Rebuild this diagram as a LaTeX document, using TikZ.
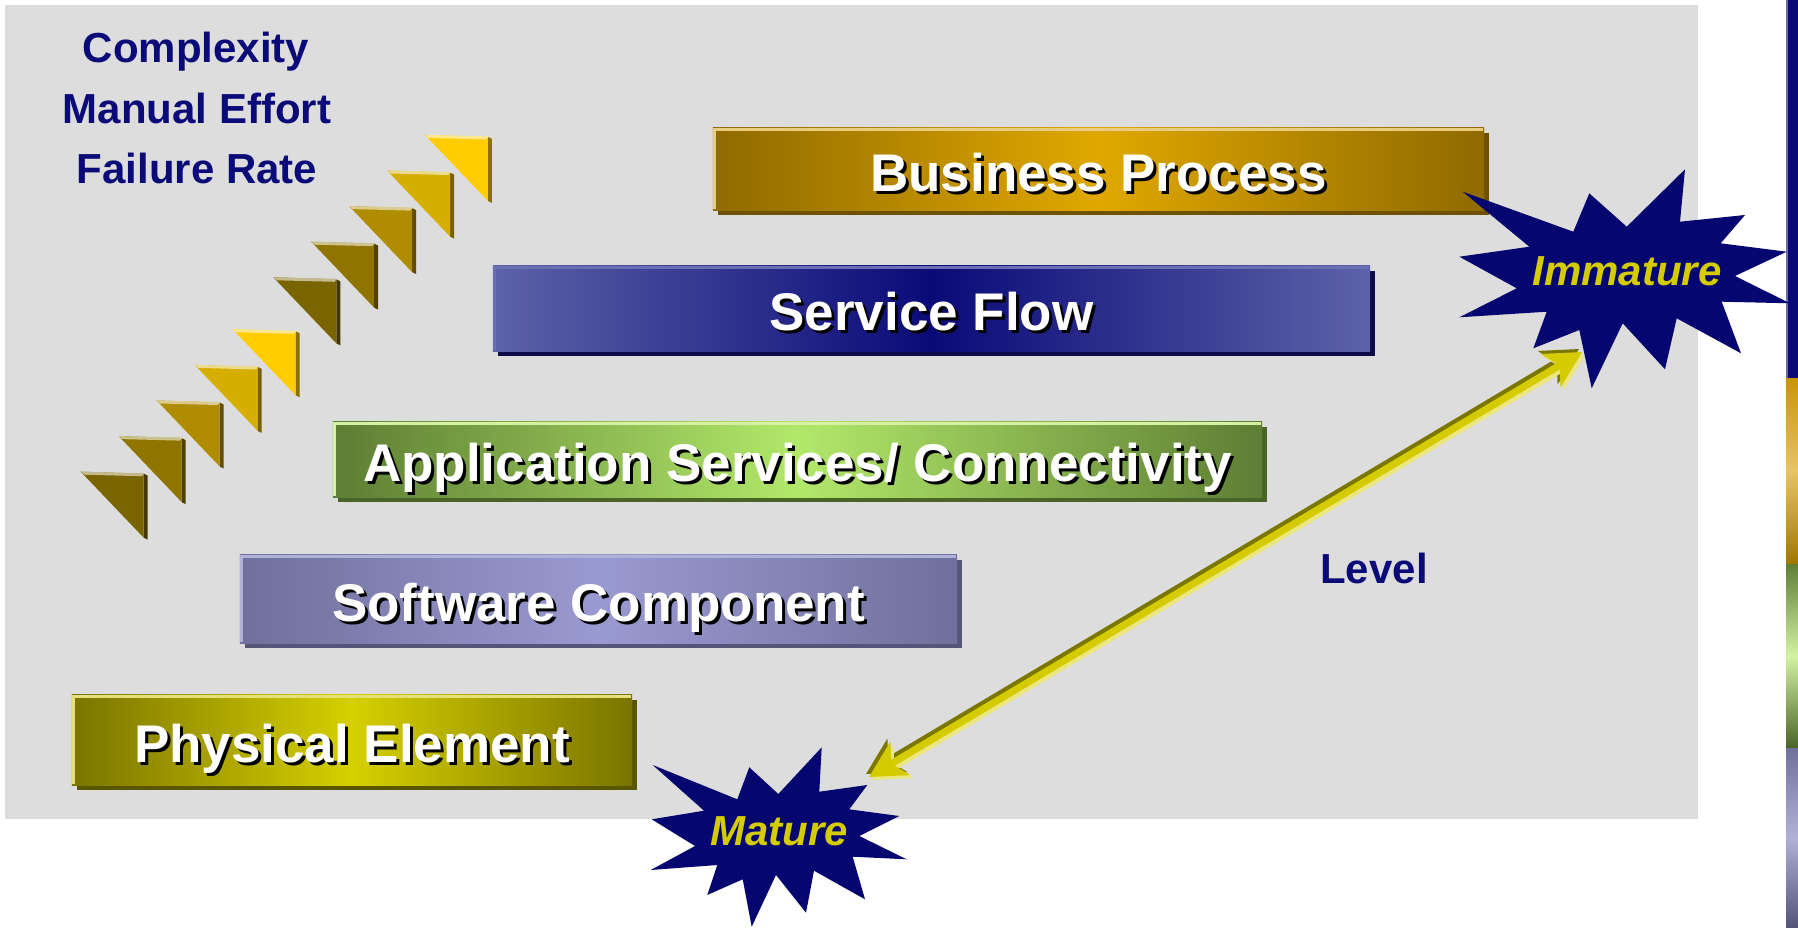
\documentclass[tikz,border=0pt]{standalone}
\usepackage{fontspec}
\setmainfont{Liberation Sans}
\usetikzlibrary{arrows.meta}

% palette
\definecolor{panel}{HTML}{DDDDDD}
\definecolor{inknavy}{HTML}{0A0A78}
\definecolor{burst}{HTML}{060670}
\definecolor{burstText}{HTML}{D4CC00}
\definecolor{lvlMain}{HTML}{D4CC00}
\definecolor{lvlDark}{HTML}{7A7600}
\definecolor{lvlLight}{HTML}{ECE680}
% layer bars: edge / middle / highlight / shadow
\definecolor{bpEdge}{HTML}{8F6A00}\definecolor{bpMid}{HTML}{E0A800}
\definecolor{bpHi}{HTML}{E8CC80}\definecolor{bpLo}{HTML}{6E5200}
\definecolor{sfEdge}{HTML}{5E62A8}\definecolor{sfMid}{HTML}{0A0A78}
\definecolor{sfHi}{HTML}{6A6EB2}\definecolor{sfLo}{HTML}{0C0C48}
\definecolor{asEdge}{HTML}{5E7E34}\definecolor{asMid}{HTML}{B2E86A}
\definecolor{asHi}{HTML}{D4F2A2}\definecolor{asLo}{HTML}{4A6428}
\definecolor{scEdge}{HTML}{70709C}\definecolor{scMid}{HTML}{9A9AD2}
\definecolor{scHi}{HTML}{B0B0D8}\definecolor{scLo}{HTML}{55557A}
\definecolor{peEdge}{HTML}{7A7400}\definecolor{peMid}{HTML}{D6D000}
\definecolor{peHi}{HTML}{E6E07A}\definecolor{peLo}{HTML}{5A5600}
% stair steps
\definecolor{stA}{HTML}{7A6400}
\definecolor{stB}{HTML}{8F7400}
\definecolor{stC}{HTML}{B08C00}
\definecolor{stD}{HTML}{D6AE00}
\definecolor{stE}{HTML}{FFCC00}
% edge strip
\definecolor{gsTop}{HTML}{C89408}\definecolor{gsMid}{HTML}{E8C462}\definecolor{gsBot}{HTML}{A07800}

% one layer bar: name, centre x, centre y, width, height, colour prefix, label
\newcommand\layerbox[7]{%
  \node[inner sep=0, minimum width=#4, minimum height=#5] (#1) at (#2,#3) {};
  \fill[#6Lo] ([shift={(5,5)}]#1.north west) rectangle ([shift={(5,5)}]#1.south east);
  \shade[left color=#6Edge, right color=#6Edge, middle color=#6Mid]
    (#1.north west) rectangle (#1.south east);
  \draw[#6Hi, line width=3pt] ([shift={(1.5,-1.5)}]#1.south west)
    -- ([shift={(1.5,1.5)}]#1.north west) -- ([shift={(-1.5,1.5)}]#1.north east);
  \node[bartext, text=black] at ([shift={(3,6)}]#1.center) {#7};
  \node[bartext] at ([shift={(0,3)}]#1.center) {#7};
}

% one bevelled stair triangle: top-left x, y, colour
\newcommand\stairtri[3]{%
  \fill[#3!55!black] (#1+63,#2+2) -- (#1+67,#2+4) -- (#1+67,#2+68) -- (#1+63,#2+66) -- cycle;
  \fill[#3] (#1,#2) -- (#1+63,#2+2) -- (#1+63,#2+66) -- cycle;
  \fill[#3!45!white] (#1,#2) -- (#1+64,#2+1.5) -- (#1+61,#2+4.5) -- (#1+3.5,#2+3) -- cycle;
}

\begin{document}
\begin{tikzpicture}[x=1pt, y=-1pt,
  bartext/.style={font=\fontsize{53}{60}\selectfont\bfseries, text=white,
    inner sep=0, text height=38pt, text depth=0pt},
  sidetext/.style={font=\fontsize{42}{50}\selectfont\bfseries, text=inknavy,
    inner sep=0, text height=30pt, text depth=0pt},
  bursttext/.style={font=\fontsize{42}{50}\selectfont\bfseries\itshape, text=burstText,
    inner sep=0, text height=30pt, text depth=0pt},
  lvlarrow/.style={line width=7pt,
    {Stealth[length=36pt,width=38pt,inset=10pt]}-{Stealth[length=36pt,width=38pt,inset=10pt]}}]

\useasboundingbox (0,0) rectangle (1798,927);
\fill[white] (0,0) rectangle (1798,927);

% grey panel
\fill[panel] (5,5) rectangle (1698,819);

% colour strip at the right edge
\fill[inknavy] (1786,0) rectangle (1798,378);
\shade[top color=gsTop, bottom color=gsBot, middle color=gsMid] (1786,378) rectangle (1798,564);
\shade[top color=asEdge, bottom color=asLo, middle color=asHi] (1786,564) rectangle (1798,748);
\shade[top color=scEdge, bottom color=scLo, middle color=scHi] (1786,748) rectangle (1798,927);
\draw[white!40!inknavy, line width=1.5pt] (1786.75,0) -- (1786.75,378);

% left captions
\node[sidetext] (cplx) at (196,47) {Complexity};
\node[sidetext] (manual) at (197,108) {Manual Effort};
\node[sidetext] (fail) at (197,168) {Failure Rate};

% rising stair of triangles
\foreach \i/\c in {0/stA,1/stB,2/stC,3/stD,4/stE}{
  \stairtri{80.7+38*\i}{471.7-35.6*\i}{\c}
}
\foreach \i/\c in {0/stA,1/stB,2/stC,3/stD,4/stE}{
  \stairtri{273.3+37.9*\i}{277.3-35.6*\i}{\c}
}

% layer bars
\layerbox{bp}{1098.5}{169}{771pt}{82pt}{bp}{Business Process}
\layerbox{sf}{931.5}{308.5}{877pt}{85pt}{sf}{Service Flow}
\layerbox{as}{797.5}{459.5}{929pt}{75pt}{as}{Application Services/ Connectivity}
\layerbox{sc}{598.5}{599}{717pt}{88pt}{sc}{Software Component}
\layerbox{pe}{352}{740}{560pt}{90pt}{pe}{Physical Element}

% level arrow between the two bursts
\node[sidetext] (level) at (1374,568) {Level};
\coordinate (matTip) at (869,777);
\coordinate (immTip) at (1582,352);
\draw[lvlarrow, lvlDark] ([shift={(-3,-3)}]matTip) -- ([shift={(-3,-3)}]immTip);
\draw[lvlarrow, lvlLight] ([shift={(3,3)}]matTip) -- ([shift={(3,3)}]immTip);
\draw[lvlarrow, lvlMain] (matTip) -- (immTip);

% upper burst
\fill[burst] (1462.7,191.7) -- (1573.3,231.7) -- (1589.3,193.3) -- (1626.7,226.7)
  -- (1685,169.3) -- (1680,221.7) -- (1745,215) -- (1720.7,243.3) -- (1786.7,251.7)
  -- (1735,276) -- (1790,303.3) -- (1721.7,301.7) -- (1741,353.3) -- (1676.7,318.3)
  -- (1665,369.3) -- (1622.7,323.3) -- (1591.7,388.3) -- (1579.3,330) -- (1533.3,348.3)
  -- (1546.7,311.7) -- (1459.3,317.3) -- (1516.7,288.3) -- (1459.3,256.7)
  -- (1529.3,246.7) -- cycle;
\node[bursttext] (immature) at (1627,270) {Immature};

% lower burst
\fill[burst] (652.7,765) -- (737.3,799.3) -- (749.3,767.3) -- (778.3,794)
  -- (821.7,747.3) -- (819.3,791.7) -- (867.3,785) -- (849.3,809.3) -- (899.3,816)
  -- (859.3,836) -- (906.7,859.3) -- (852.7,856.7) -- (865,899.3) -- (814,870.7)
  -- (806,912.7) -- (776,875) -- (751.7,926.7) -- (742.7,879.3) -- (707.3,895)
  -- (717.3,865) -- (650.7,870) -- (695,846) -- (651.7,819.3) -- (704,810.7) -- cycle;
\node[bursttext] (mature) at (779,830.5) {Mature};

\end{tikzpicture}
\end{document}
